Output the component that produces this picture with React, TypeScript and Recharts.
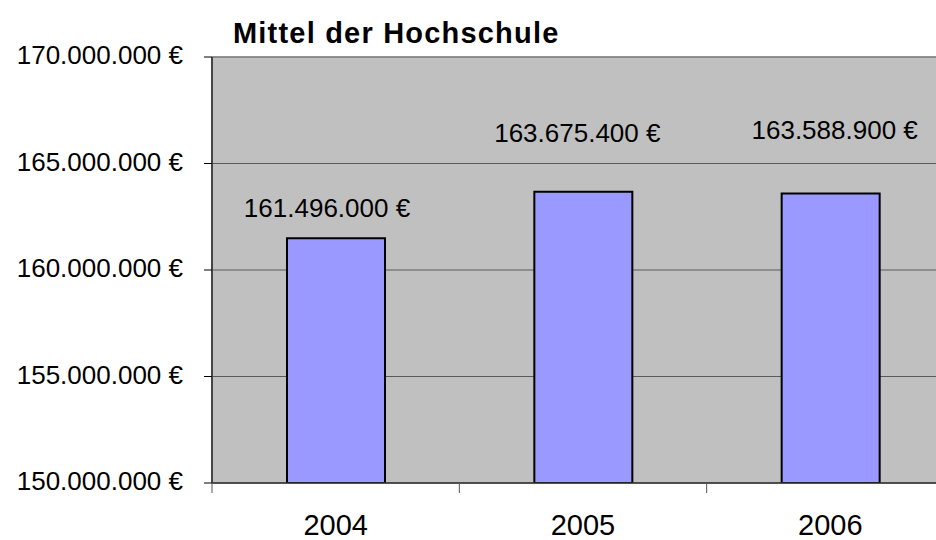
import { BarChart, Bar, XAxis, YAxis, CartesianGrid, LabelList, ReferenceLine } from 'recharts'

const YEARS = ['2004', '2005', '2006']
const MITTEL = [161496000, 163675400, 163588900]
const Y_TICKS = [150000000, 155000000, 160000000, 165000000, 170000000]

// Label placement as in the original (gap above bar top, horizontal nudge)
const LABEL_GAP = [21, 50, 55]
const LABEL_DX = [-9, -6, 4]

const rows = YEARS.map((year, i) => ({ year, value: MITTEL[i] }))

const FONT = '"Liberation Sans", Arial, sans-serif'

function euro(v: number) {
  return String(Math.round(v)).replace(/\B(?=(\d{3})+(?!\d))/g, '.') + ' €'
}

function XTick(props: any) {
  const { x, y, payload } = props
  const half = payload?.offset ?? 123.7
  return (
    <g>
      <line x1={x - half} x2={x - half} y1={y} y2={y + 10} stroke="#555" strokeWidth={1} />
      <text x={x} y={y + 52} textAnchor="middle" fontSize={29} fontFamily={FONT} fill="#000">
        {payload.value}
      </text>
    </g>
  )
}

function ValueLabel(props: any) {
  const { x, y, width, value, index } = props
  return (
    <text
      x={x + width / 2 + LABEL_DX[index]}
      y={y - LABEL_GAP[index]}
      textAnchor="middle"
      fontSize={26}
      fontFamily={FONT}
      fill="#000"
    >
      {euro(value)}
    </text>
  )
}

export default function App() {
  return (
    <div style={{ position: 'absolute', left: 0, top: 0, width: 936, height: 540, overflow: 'hidden', background: '#fff' }}>
      <BarChart width={960} height={540} data={rows} margin={{ top: 57, right: 6, left: 0, bottom: 0 }}>
        <CartesianGrid vertical={false} fill="#C0C0C0" stroke="#5a5a5a" />
        <ReferenceLine y={170000000} stroke="#888" strokeWidth={1.5} />
        <XAxis
          dataKey="year"
          height={57}
          tickSize={0}
          tickMargin={0}
          tick={<XTick />}
          axisLine={{ stroke: '#333', strokeWidth: 1.5 }}
          interval={0}
        />
        <YAxis
          width={212}
          domain={[150000000, 170000000]}
          ticks={Y_TICKS}
          allowDataOverflow
          tickFormatter={euro}
          tickSize={8}
          tickMargin={21}
          tick={{ fontSize: 26, fontFamily: FONT, fill: '#000', dy: -2 }}
          tickLine={{ stroke: '#000' }}
          axisLine={{ stroke: '#444', strokeWidth: 2 }}
        />
        <Bar dataKey="value" fill="#9999FF" stroke="#000" strokeWidth={2} barSize={98} isAnimationActive={false}>
          <LabelList dataKey="value" content={<ValueLabel />} />
        </Bar>
      </BarChart>
      <svg width={936} height={57} style={{ position: 'absolute', left: 0, top: 0 }}>
        <text x={233} y={43} fontSize={29} fontWeight="bold" letterSpacing={1.2} fontFamily={FONT} fill="#000">
          Mittel der Hochschule
        </text>
      </svg>
    </div>
  )
}
